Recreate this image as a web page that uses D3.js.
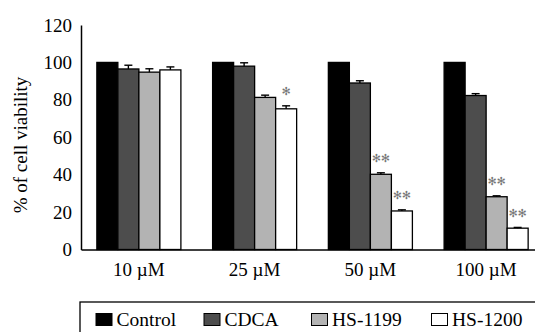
<!DOCTYPE html>
<html>
<head>
<meta charset="utf-8">
<script src="https://cdn.jsdelivr.net/npm/d3@7"></script>
<style>
  body { margin: 0; background: #fff; }
  svg text { font-family: 'Liberation Serif', 'Times New Roman', serif; }
  svg text.star { font-family: 'DejaVu Sans', sans-serif; }
</style>
</head>
<body>
<div id="chart"></div>
<script>
var svgWidth = 535;
var svgHeight = 332;

// data
var doses = ["10 \u00b5M", "25 \u00b5M", "50 \u00b5M", "100 \u00b5M"];
var series = ["Control", "CDCA", "HS-1199", "HS-1200"];
var control = [100, 100, 100, 100];
var cdca = [96.5, 98, 89, 82.3];
var hs1199 = [94.8, 81.3, 40.2, 28.2];
var hs1200 = [96, 75.2, 20.6, 11.4];
var controlErr = [0, 0, 0, 0];
var cdcaErr = [2, 1.8, 1.2, 1];
var hs1199Err = [1.8, 1.2, 0.8, 0.5];
var hs1200Err = [1.6, 1.6, 0.6, 0.4];
// significance marks, per dose, per series
var marks = [
  ["", "", "", ""],
  ["", "", "", "\u273b"],
  ["", "", "\u273b\u273b", "\u273b\u273b"],
  ["", "", "\u273b\u273b", "\u273b\u273b"]
];
var yTicks = [0, 20, 40, 60, 80, 100, 120];

var colors = ["#000000", "#4d4d4d", "#b3b3b3", "#ffffff"];
var values = [control, cdca, hs1199, hs1200];
var errors = [controlErr, cdcaErr, hs1199Err, hs1200Err];

// flatten into rows for drawing
var rows = [];
doses.forEach(function(d, i) {
  series.forEach(function(s, j) {
    rows.push({dose: d, series: s, value: values[j][i], err: errors[j][i], mark: marks[i][j], color: colors[j]});
  });
});

var svg = d3.select("#chart")
  .append("svg")
  .attr("width", svgWidth)
  .attr("height", svgHeight);

var x0 = d3.scaleBand()
  .domain(doses)
  .range([81, 544])
  .paddingInner(0.274)
  .paddingOuter(0.137);

var x1 = d3.scaleBand()
  .domain(series)
  .range([0, x0.bandwidth()]);

var y = d3.scaleLinear()
  .domain([0, 120])
  .range([249.5, 25]);

// axes
var leftAxis = d3.axisLeft(y).tickValues(yTicks).tickSize(0).tickPadding(9);
var gy = svg.append("g")
  .attr("transform", "translate(81,0)")
  .call(leftAxis)
  .attr("font-family", "Liberation Serif")
  .attr("font-size", 19);
gy.select(".domain").attr("stroke", "#000").attr("stroke-width", 1.5);
gy.selectAll("text").attr("fill", "#000");

var bottomAxis = d3.axisBottom(x0).tickSize(0).tickPadding(13);
var gx = svg.append("g")
  .attr("transform", "translate(0,249.5)")
  .call(bottomAxis)
  .attr("font-family", "Liberation Serif")
  .attr("font-size", 19);
gx.select(".domain").attr("stroke", "#000").attr("stroke-width", 1.5);
gx.selectAll("text").attr("fill", "#000");

// bars
svg.append("g").selectAll("rect")
  .data(rows)
  .enter()
  .append("rect")
  .attr("x", d => x0(d.dose) + x1(d.series))
  .attr("y", d => y(d.value))
  .attr("width", x1.bandwidth())
  .attr("height", d => y(0) - y(d.value))
  .attr("fill", d => d.color)
  .attr("stroke", "#000")
  .attr("stroke-width", 1.3);

// error bars
var errRows = rows.filter(d => d.err > 0);
var eb = svg.append("g").attr("stroke", "#000").attr("stroke-width", 1.4);
eb.selectAll("line.v")
  .data(errRows)
  .enter()
  .append("line")
  .attr("class", "v")
  .attr("x1", d => x0(d.dose) + x1(d.series) + x1.bandwidth() / 2)
  .attr("x2", d => x0(d.dose) + x1(d.series) + x1.bandwidth() / 2)
  .attr("y1", d => y(d.value))
  .attr("y2", d => y(d.value + d.err));
eb.selectAll("line.c")
  .data(errRows)
  .enter()
  .append("line")
  .attr("class", "c")
  .attr("x1", d => x0(d.dose) + x1(d.series) + x1.bandwidth() / 2 - 4)
  .attr("x2", d => x0(d.dose) + x1(d.series) + x1.bandwidth() / 2 + 4)
  .attr("y1", d => y(d.value + d.err))
  .attr("y2", d => y(d.value + d.err));

// significance stars
svg.append("g").selectAll("text")
  .data(rows.filter(d => d.mark))
  .enter()
  .append("text")
  .attr("class", "star")
  .attr("x", d => x0(d.dose) + x1(d.series) + x1.bandwidth() / 2)
  .attr("y", d => y(d.value + d.err) - 14)
  .attr("text-anchor", "middle")
  .attr("dominant-baseline", "central")
  .attr("font-size", 11)
  .attr("fill", "#777")
  .text(d => d.mark);

// y axis title
svg.append("text")
  .attr("transform", "translate(27,145) rotate(-90)")
  .attr("text-anchor", "middle")
  .attr("font-size", 19)
  .attr("fill", "#000")
  .text("%  of cell viability");

// legend
var legend = svg.append("g");
legend.append("rect")
  .attr("x", 80)
  .attr("y", 302)
  .attr("width", 470)
  .attr("height", 60)
  .attr("fill", "none")
  .attr("stroke", "#000")
  .attr("stroke-width", 1.3);

var legendX = [96, 204, 311.5, 431.5];
var item = legend.selectAll("g.item")
  .data(series)
  .enter()
  .append("g")
  .attr("class", "item")
  .attr("transform", (d, i) => `translate(${legendX[i]},313.5)`);
item.append("rect")
  .attr("width", 16)
  .attr("height", 12)
  .attr("fill", (d, i) => colors[i])
  .attr("stroke", "#000")
  .attr("stroke-width", 1);
item.append("text")
  .attr("x", 20.5)
  .attr("y", 12)
  .attr("font-size", 19.5)
  .attr("fill", "#000")
  .text(d => d);
</script>
</body>
</html>
